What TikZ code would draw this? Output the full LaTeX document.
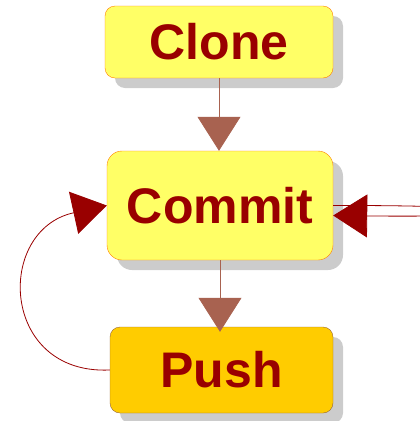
\documentclass[tikz,border=0pt]{standalone}
\usepackage{fontspec}
\setmainfont{Liberation Sans}
\usetikzlibrary{arrows.meta,shadows}
\definecolor{darkred}{HTML}{990000}
\definecolor{boxyellow}{HTML}{FFFF66}
\definecolor{boxorange}{HTML}{FFCC00}
\definecolor{arrowbrown}{HTML}{A86250}
\begin{document}
\begin{tikzpicture}[x=1pt,y=-1pt,
	stepbox/.style={draw=orange,fill=boxyellow,rounded corners=10pt,text=darkred,
		font=\fontsize{50}{60}\bfseries\selectfont,inner sep=0pt,
		drop shadow={fill=black!20,opacity=1,shadow xshift=10pt,shadow yshift=-10pt}},
	downarrow/.style={draw=arrowbrown,line width=0.8pt,-{Triangle[width=43pt,length=34pt,fill=arrowbrown]}},
	looparrow/.style={draw=darkred,line width=0.8pt,-{Triangle[width=43pt,length=34pt,fill=darkred]}}]
		\useasboundingbox (0,0) rectangle (420,421);

		\node[stepbox,minimum width=228pt,minimum height=72pt] (clone) at (219,42) {Clone};
		\node[stepbox,rounded corners=15pt,minimum width=226pt,minimum height=109pt] (commit) at (220,205.5) {Commit};
		\node[stepbox,fill=boxorange,draw=brown!80!black,minimum width=223pt,minimum height=86pt] (push) at (221.5,370) {Push};

		\draw[downarrow] (clone) -- (clone |- commit.north);
		\draw[downarrow,shorten >=-5pt] (commit) -- (commit |- push.north);
		\draw[looparrow] (push.west) .. controls (0,375) and (-5,230) .. (commit.west);
		\draw[looparrow] (commit.east) .. controls (540,205) and (540,218) .. ([yshift=-10pt]commit.east);
	\end{tikzpicture}
\end{document}
